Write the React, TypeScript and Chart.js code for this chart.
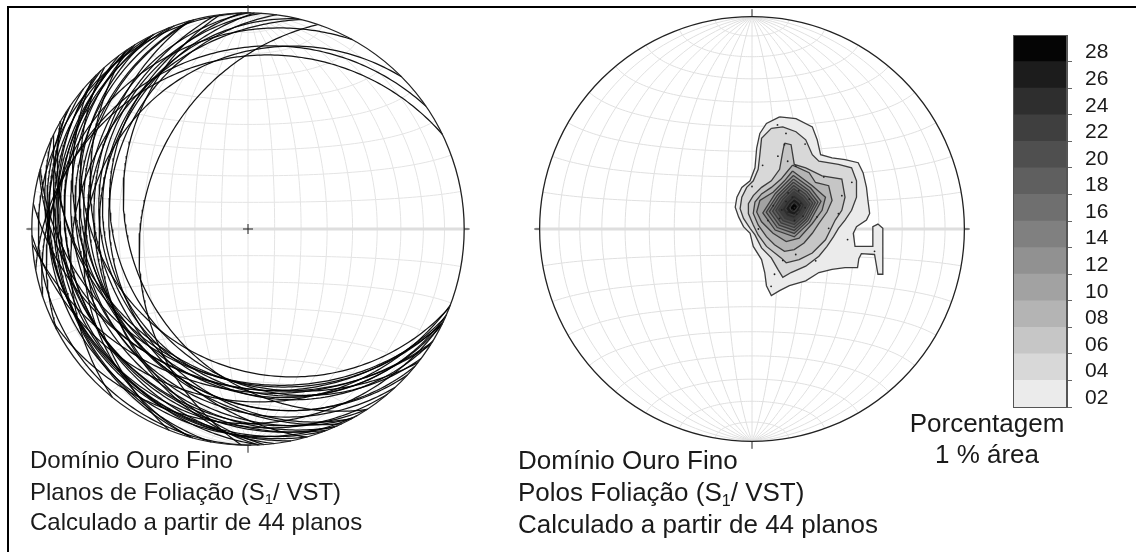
import React, { useEffect, useRef } from "react";
import { Chart, registerables } from "chart.js";
Chart.register(...registerables);

// ---- Data: 44 poles of S1 planes (net coordinates) and the radius of the
//      circle each plane is drawn with on the left net ----
const poleX = [
  0.20, 0.21, 0.19, 0.20, 0.22, 0.18, 0.17, 0.23, 0.21, 0.16,
  0.25, 0.19, 0.14, 0.24, 0.20, 0.13, 0.27, 0.17, 0.10, 0.22,
  0.075, 0.03, 0.306, 0.361, 0.407, 0.423, 0.338, 0.206, 0.168, 0.122,
  0.153, 0.206, 0.145, 0.106,
  0.16, 0.12, 0.25, 0.05, 0.47, 0.45, 0.30, 0.09, 0.577, 0.00,
];
const poleY = [
  0.10, 0.11, 0.09, 0.12, 0.09, 0.11, 0.08, 0.12, 0.07, 0.13,
  0.10, 0.15, 0.09, 0.06, 0.04, 0.05, 0.14, 0.17, 0.11, 0.18,
  0.04, 0.00, 0.057, 0.003, 0.072, 0.157, 0.245, 0.296, 0.319, 0.343,
  0.397, -0.12, -0.148, -0.213,
  0.45, 0.49, 0.40, 0.30, 0.22, -0.05, -0.15, -0.27, -0.105, 0.20,
];
const circleRadius = [
  0.873, 0.90, 0.93, 0.96, 1.00, 0.98, 1.02, 1.05, 1.08, 1.04,
  1.10, 1.13, 1.06, 1.14, 1.09, 1.01, 0.91, 0.95, 1.03, 1.12,
  1.00, 1.00, 0.95, 1.05, 1.12, 1.00, 1.15, 0.98, 1.05, 1.09,
  1.12, 0.966, 1.078, 1.06,
  1.20, 1.25, 1.15, 1.10, 1.20, 1.20, 1.12, 1.075, 1.081, 1.10,
];

// ---- Density contours of the poles (net coordinates), % per 1% area ----
const contourLevels = [2, 4, 6, 8, 10, 12, 14, 16, 18, 20, 22, 24, 26, 28];
const levelColors = [
  "#ebebeb", "#d8d8d8", "#c6c6c6", "#b4b4b4", "#a2a2a2", "#919191", "#808080",
  "#6f6f6f", "#5f5f5f", "#4f4f4f", "#3f3f3f", "#2e2e2e", "#1c1c1c", "#050505",
];
const ring02 = [
  [0.130, 0.528], [0.207, 0.520], [0.284, 0.481], [0.307, 0.420], [0.323, 0.350],
  [0.377, 0.335], [0.438, 0.327], [0.500, 0.312], [0.523, 0.265], [0.539, 0.196],
  [0.546, 0.134], [0.554, 0.073], [0.539, 0.042], [0.492, 0.011], [0.477, -0.020],
  [0.485, -0.082], [0.569, -0.082], [0.569, 0.011], [0.593, 0.023], [0.616, 0.003],
  [0.616, -0.213], [0.593, -0.213], [0.577, -0.120], [0.515, -0.116], [0.503, -0.140],
  [0.497, -0.182], [0.438, -0.182], [0.377, -0.190], [0.315, -0.205], [0.253, -0.244],
  [0.176, -0.267], [0.130, -0.290], [0.091, -0.313], [0.068, -0.267], [0.060, -0.205],
  [0.045, -0.144], [0.006, -0.082], [-0.009, -0.020], [-0.040, 0.011], [-0.063, 0.057],
  [-0.079, 0.103], [-0.071, 0.150], [-0.048, 0.196], [-0.009, 0.227], [0.014, 0.288],
  [0.022, 0.381], [0.037, 0.450], [0.068, 0.497],
];
const ring04 = [
  [0.091, 0.474], [0.145, 0.481], [0.207, 0.458], [0.253, 0.420], [0.284, 0.350],
  [0.315, 0.319], [0.407, 0.304], [0.469, 0.288], [0.492, 0.227], [0.492, 0.150],
  [0.469, 0.088], [0.438, 0.042], [0.407, 0.003], [0.384, -0.036], [0.353, -0.082],
  [0.315, -0.128], [0.253, -0.175], [0.184, -0.205], [0.145, -0.228], [0.122, -0.190],
  [0.091, -0.136], [0.045, -0.089], [0.014, -0.028], [-0.009, 0.003], [-0.040, 0.050],
  [-0.056, 0.096], [-0.048, 0.150], [-0.025, 0.196], [0.006, 0.227], [0.029, 0.281],
  [0.037, 0.350], [0.045, 0.427],
];
const ring06 = [
  [0.153, 0.404], [0.184, 0.397], [0.199, 0.304], [0.253, 0.288], [0.330, 0.250],
  [0.423, 0.235], [0.438, 0.150], [0.423, 0.088], [0.392, 0.042], [0.369, -0.005],
  [0.346, -0.051], [0.284, -0.113], [0.222, -0.144], [0.161, -0.159], [0.137, -0.136],
  [0.068, -0.082], [0.029, -0.028], [0.006, 0.019], [-0.017, 0.073], [-0.017, 0.119],
  [0.006, 0.157], [0.045, 0.196], [0.091, 0.227], [0.130, 0.281], [0.145, 0.366],
];
const ring08 = [
  [0.191, 0.301], [0.269, 0.265], [0.299, 0.219], [0.361, 0.204], [0.377, 0.134],
  [0.353, 0.080], [0.315, 0.026], [0.284, -0.020], [0.245, -0.066], [0.199, -0.097],
  [0.153, -0.105], [0.106, -0.074], [0.068, -0.036], [0.029, 0.019], [0.006, 0.073],
  [0.014, 0.127], [0.045, 0.165], [0.091, 0.196], [0.137, 0.235], [0.168, 0.273],
];
const ring10 = [
  [0.191, 0.273], [0.284, 0.204], [0.346, 0.150], [0.330, 0.088], [0.284, 0.026],
  [0.222, -0.043], [0.161, -0.059], [0.099, -0.020], [0.045, 0.034], [0.022, 0.080],
  [0.037, 0.134], [0.099, 0.173], [0.153, 0.227],
];
const ring12 = [[0.195, 0.252], [0.276, 0.193], [0.325, 0.130], [0.271, 0.031], [0.199, -0.037], [0.109, -0.005], [0.051, 0.076], [0.109, 0.166]];
const ring14 = [[0.195, 0.235], [0.267, 0.183], [0.311, 0.127], [0.263, 0.039], [0.199, -0.021], [0.119, 0.007], [0.067, 0.079], [0.119, 0.159]];
const ring16 = [[0.195, 0.220], [0.259, 0.174], [0.298, 0.124], [0.256, 0.046], [0.199, -0.007], [0.128, 0.018], [0.082, 0.082], [0.128, 0.153]];
const ring18 = [[0.196, 0.205], [0.252, 0.165], [0.286, 0.122], [0.249, 0.053], [0.199, 0.007], [0.137, 0.029], [0.097, 0.084], [0.137, 0.146]];
const ring20 = [[0.196, 0.190], [0.244, 0.156], [0.273, 0.119], [0.241, 0.061], [0.199, 0.021], [0.146, 0.039], [0.112, 0.087], [0.146, 0.140]];
const ring22 = [[0.197, 0.176], [0.236, 0.147], [0.261, 0.116], [0.234, 0.068], [0.199, 0.035], [0.155, 0.050], [0.126, 0.090], [0.155, 0.134]];
const ring24 = [[0.197, 0.161], [0.229, 0.138], [0.248, 0.114], [0.227, 0.075], [0.199, 0.049], [0.164, 0.061], [0.141, 0.093], [0.164, 0.128]];
const ring26 = [[0.198, 0.144], [0.220, 0.128], [0.234, 0.111], [0.219, 0.083], [0.199, 0.064], [0.174, 0.073], [0.158, 0.096], [0.174, 0.121]];
const ring28 = [[0.198, 0.124], [0.210, 0.116], [0.217, 0.107], [0.209, 0.093], [0.199, 0.083], [0.186, 0.087], [0.178, 0.099], [0.186, 0.112]];
const contourRings = [ring02, ring04, ring06, ring08, ring10, ring12, ring14, ring16, ring18, ring20, ring22, ring24, ring26, ring28];

// ---- Colour-scale legend ----
const legendValues = [2, 4, 6, 8, 10, 12, 14, 16, 18, 20, 22, 24, 26, 28];
const legendTickLabels = ["02", "04", "06", "08", "10", "12", "14", "16", "18", "20", "22", "24", "26", "28"];

const FONT = '"Liberation Sans", Arial, Helvetica, sans-serif';
const RAD = Math.PI / 180;

// part of a circle (centre cx,cy, radius r) lying inside the unit primitive
function clippedCircle(cx: number, cy: number, r: number) {
  const c = Math.hypot(cx, cy);
  const th = Math.atan2(cy, cx);
  let a0 = 0, a1 = Math.PI * 2;
  if (c > 1e-9) {
    const k = (1 - c * c - r * r) / (2 * r * c);
    if (k <= -1) return [];
    if (k < 1) { const h = Math.acos(k); a0 = th + h; a1 = th + 2 * Math.PI - h; }
  }
  const pts: { x: number; y: number }[] = [];
  const n = 160;
  for (let i = 0; i <= n; i++) {
    const a = a0 + ((a1 - a0) * i) / n;
    pts.push({ x: cx + r * Math.cos(a), y: cy + r * Math.sin(a) });
  }
  return pts;
}
// Schmidt (equal-area) net point, longitude lam / latitude phi about N-S axis
function netPoint(lam: number, phi: number) {
  const cp = Math.cos(phi * RAD), k = 1 / Math.sqrt(1 + cp * Math.cos(lam * RAD));
  return { x: cp * Math.sin(lam * RAD) * k, y: Math.sin(phi * RAD) * k };
}

const netPlugin = {
  id: "schmidtNet",
  beforeDatasetsDraw(chart: any, _a: any, opts: any) {
    const { ctx } = chart;
    const xs = chart.scales.x, ys = chart.scales.y;
    const X = (v: number) => xs.getPixelForValue(v), Y = (v: number) => ys.getPixelForValue(v);
    ctx.save();
    ctx.strokeStyle = opts.gridColor || "#e3e3e3";
    ctx.lineWidth = 1;
    for (let lam = -80; lam <= 80; lam += 10) {
      ctx.beginPath();
      for (let phi = -90; phi <= 90; phi += 2) {
        const q = netPoint(lam, phi);
        if (phi === -90) ctx.moveTo(X(q.x), Y(q.y)); else ctx.lineTo(X(q.x), Y(q.y));
      }
      ctx.stroke();
    }
    for (let phi = -80; phi <= 80; phi += 10) {
      if (phi === 0) continue;
      ctx.beginPath();
      for (let lam = -90; lam <= 90; lam += 2) {
        const q = netPoint(lam, phi);
        if (lam === -90) ctx.moveTo(X(q.x), Y(q.y)); else ctx.lineTo(X(q.x), Y(q.y));
      }
      ctx.stroke();
    }
    ctx.strokeStyle = "#dedede";
    ctx.lineWidth = 3;
    ctx.beginPath();
    ctx.moveTo(X(-1.02), Y(0));
    ctx.lineTo(X(1.02), Y(0));
    ctx.stroke();
    ctx.restore();
  },
  afterDatasetsDraw(chart: any, _a: any, opts: any) {
    const { ctx } = chart;
    const xs = chart.scales.x, ys = chart.scales.y;
    const X = (v: number) => xs.getPixelForValue(v), Y = (v: number) => ys.getPixelForValue(v);
    ctx.save();
    ctx.strokeStyle = "#222";
    ctx.lineWidth = 1.3;
    ctx.beginPath();
    ctx.arc(X(0), Y(0), X(1) - X(0), 0, Math.PI * 2);
    ctx.stroke();
    ctx.lineWidth = 1;
    ctx.beginPath();
    ctx.moveTo(X(0), Y(1)); ctx.lineTo(X(0), Y(1.035));
    ctx.moveTo(X(0), Y(-1)); ctx.lineTo(X(0), Y(-1.035));
    ctx.moveTo(X(-1), Y(0)); ctx.lineTo(X(-1.025), Y(0));
    ctx.moveTo(X(1), Y(0)); ctx.lineTo(X(1.025), Y(0));
    if (opts.cross) {
      ctx.moveTo(X(0) - 5, Y(0)); ctx.lineTo(X(0) + 5, Y(0));
      ctx.moveTo(X(0), Y(0) - 5); ctx.lineTo(X(0), Y(0) + 5);
    }
    ctx.stroke();
    ctx.restore();
  },
};

const barOutline = {
  id: "barOutline",
  afterDatasetsDraw(chart: any) {
    const { ctx, chartArea: a } = chart;
    ctx.save();
    ctx.strokeStyle = "#555";
    ctx.lineWidth = 1;
    ctx.strokeRect(a.left + 0.5, a.top + 0.5, a.right - a.left - 1, a.bottom - a.top);
    ctx.restore();
  },
};

const netScales = {
  x: { type: "linear", min: -1.05, max: 1.05, display: false },
  y: { type: "linear", min: -1.05, max: 1.05, display: false },
};

function Txt({ x, y, size, center, children }: any) {
  return (
    <div
      style={{
        position: "absolute", left: x, top: y - size * 0.8465, fontSize: size,
        lineHeight: `${size}px`, fontFamily: FONT, color: "#1a1a1a", whiteSpace: "nowrap",
        transform: center ? "translateX(-50%)" : undefined,
      }}
    >
      {children}
    </div>
  );
}
const subStyle: any = { fontSize: "0.62em", verticalAlign: "-0.28em", lineHeight: 0 };

export default function App() {
  const leftRef = useRef<HTMLCanvasElement>(null);
  const rightRef = useRef<HTMLCanvasElement>(null);
  const barRef = useRef<HTMLCanvasElement>(null);

  useEffect(() => {
    const charts: Chart[] = [];
    const circleSets = poleX.map((px, i) => ({
      data: clippedCircle(px, poleY[i], circleRadius[i]),
      showLine: true, pointRadius: 0, borderColor: "rgba(0,0,0,0.92)", borderWidth: 1.25,
      fill: false, tension: 0,
    }));
    charts.push(new Chart(leftRef.current!, {
      type: "scatter",
      data: { datasets: circleSets as any },
      options: {
        animation: false, responsive: false, events: [],
        layout: { padding: 0 },
        scales: netScales as any,
        plugins: { legend: { display: false }, tooltip: { enabled: false }, schmidtNet: { cross: true, gridColor: "#e4e4e4" } } as any,
      },
      plugins: [netPlugin],
    }));

    const ringSets = contourRings.map((ring, i) => ({
      data: [...ring, ring[0]].map(([x, y]) => ({ x, y })),
      showLine: true, pointRadius: 0, fill: "shape",
      backgroundColor: levelColors[i], borderColor: "#3c3c3c", borderWidth: 1.3,
      tension: 0, order: 100 - i,
    }));
    const poleSet = {
      data: poleX.map((x, i) => ({ x, y: poleY[i] })),
      showLine: false, pointRadius: 0.9, pointBorderWidth: 0,
      backgroundColor: "#222", borderColor: "#222", order: 0,
    };
    charts.push(new Chart(rightRef.current!, {
      type: "scatter",
      data: { datasets: [...ringSets, poleSet] as any },
      options: {
        animation: false, responsive: false, events: [],
        layout: { padding: 0 },
        scales: netScales as any,
        plugins: { legend: { display: false }, tooltip: { enabled: false }, schmidtNet: { cross: false, gridColor: "#e0e0e0" } } as any,
      },
      plugins: [netPlugin],
    }));

    charts.push(new Chart(barRef.current!, {
      type: "bar",
      data: {
        labels: [""],
        datasets: contourLevels.map((lv, i) => ({
          data: [[lv, lv + 2]], backgroundColor: levelColors[i], borderWidth: 0,
          grouped: false, barPercentage: 1, categoryPercentage: 1,
        })) as any,
      },
      options: {
        animation: false, responsive: false, events: [],
        layout: { padding: { top: 16, bottom: 16, left: 0, right: 0 } },
        scales: {
          x: { display: false },
          y: {
            position: "right", min: 2, max: 30,
            grid: { drawOnChartArea: false, drawTicks: true, tickLength: 5, color: "#666" },
            border: { display: true, color: "#555" },
            ticks: {
              padding: 13, labelOffset: -9, color: "#1a1a1a",
              font: { family: FONT, size: 21 },
              callback: (_v: any, idx: number) => legendTickLabels[idx],
            },
            afterBuildTicks: (s: any) => { s.ticks = legendValues.map((v) => ({ value: v })); },
            afterFit: (s: any) => { s.width = 60; s.paddingTop = 0; s.paddingBottom = 0; },
          },
        } as any,
        plugins: { legend: { display: false }, tooltip: { enabled: false } },
      },
      plugins: [barOutline],
    }));

    return () => charts.forEach((c) => c.destroy());
  }, []);

  return (
    <div style={{ position: "fixed", left: 0, top: 0, width: 1136, height: 552, overflow: "hidden", background: "#fff" }}>
      <div style={{ position: "absolute", left: 7, top: 6, width: 1129, height: 2, background: "#000" }} />
      <div style={{ position: "absolute", left: 7, top: 6, width: 2, height: 546, background: "#000" }} />
      <canvas ref={leftRef} width={454} height={454} style={{ position: "absolute", left: 21, top: 2, width: 454, height: 454 }} />
      <canvas ref={rightRef} width={454} height={454} style={{ position: "absolute", left: 525, top: 2, width: 454, height: 454 }} />
      <canvas ref={barRef} width={114} height={404} style={{ position: "absolute", left: 1013, top: 19, width: 114, height: 404 }} />

      <Txt x={30} y={468} size={24}>Domínio Ouro Fino</Txt>
      <Txt x={30} y={500} size={24}>Planos de Foliação (S<span style={subStyle}>1</span>/ VST)</Txt>
      <Txt x={30} y={530} size={24}>Calculado a partir de 44 planos</Txt>

      <Txt x={518} y={469} size={26}>Domínio Ouro Fino</Txt>
      <Txt x={518} y={501} size={26}>Polos Foliação (S<span style={subStyle}>1</span>/ VST)</Txt>
      <Txt x={518} y={533} size={26}>Calculado a partir de 44 planos</Txt>

      <Txt x={987} y={432} size={26} center>Porcentagem</Txt>
      <Txt x={987} y={463} size={26} center>1 % área</Txt>
    </div>
  );
}
